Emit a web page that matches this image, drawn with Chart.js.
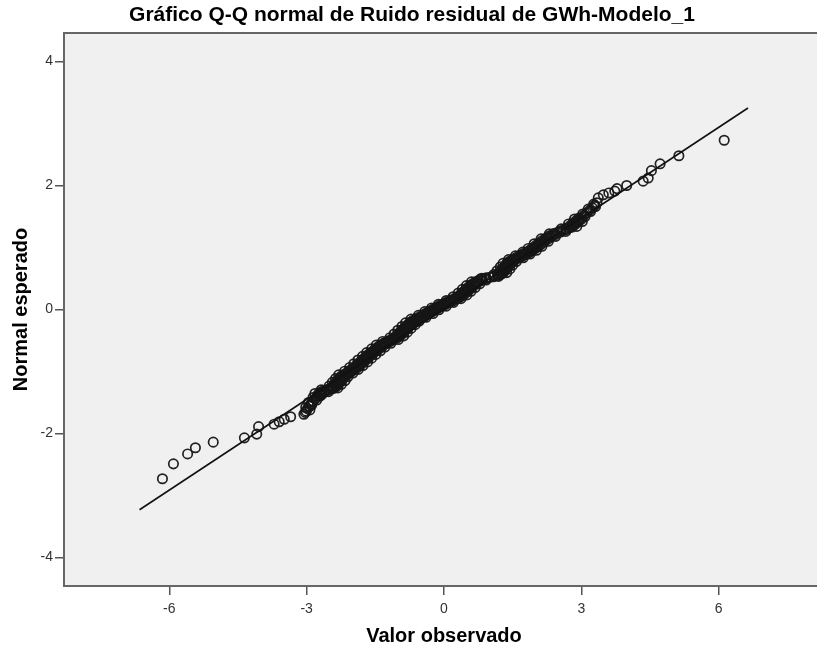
<!DOCTYPE html>
<html>
<head>
<meta charset="utf-8">
<script src="https://cdn.jsdelivr.net/npm/chart.js@4.4.1/dist/chart.umd.min.js"></script>
<style>
  html, body { margin: 0; padding: 0; background: #ffffff; overflow: hidden; }
  #wrap { width: 832px; height: 650px; }
</style>
</head>
<body>
<div id="wrap"><canvas id="qq" width="832" height="650"></canvas></div>
<script>
// Texts
const chartTitle = 'Gráfico Q-Q normal de Ruido residual de GWh-Modelo_1';
const xAxisTitle = 'Valor observado';
const yAxisTitle = 'Normal esperado';

// Tick values
const xTicks = [-6, -3, 0, 3, 6];
const yTicks = [-4, -2, 0, 2, 4];

// Residuals (observed) and their expected normal quantiles
const observed = [
  -6.15, -5.91, -5.60, -5.43, -5.04, -4.36, -4.09, -4.05, -3.71, -3.60, -3.49, -3.35, -3.06, -3.03,
  -3.01, -2.93, -2.98, -3.02, -2.94, -2.89, -2.90, -2.96, -2.86, -2.78, -2.81, -2.86, -2.75, -2.70,
  -2.71, -2.82, -2.67, -2.52, -2.60, -2.68, -2.46, -2.32, -2.40, -2.51, -2.37, -2.24, -2.33, -2.44,
  -2.30, -2.16, -2.27, -2.37, -2.23, -2.10, -2.20, -2.30, -2.13, -1.99, -2.07, -2.17, -2.02, -1.87,
  -1.96, -2.06, -1.90, -1.77, -1.86, -1.97, -1.81, -1.67, -1.77, -1.88, -1.72, -1.58, -1.68, -1.78,
  -1.63, -1.49, -1.59, -1.69, -1.53, -1.39, -1.48, -1.58, -1.43, -1.29, -1.38, -1.48, -1.33, -1.16,
  -1.25, -1.34, -1.17, -1.00, -1.08, -1.18, -1.02, -0.88, -0.98, -1.09, -0.94, -0.80, -0.90, -1.01,
  -0.86, -0.72, -0.82, -0.92, -0.77, -0.63, -0.73, -0.84, -0.69, -0.54, -0.63, -0.72, -0.55, -0.39,
  -0.47, -0.56, -0.40, -0.24, -0.33, -0.42, -0.26, -0.11, -0.19, -0.27, -0.11,  0.05, -0.04, -0.12,
   0.05,  0.21,  0.13,  0.05,  0.21,  0.37,  0.30,  0.20,  0.36,  0.50,  0.41,  0.31,  0.45,  0.59,
   0.50,  0.40,  0.54,  0.68,  0.59,  0.49,  0.63,  0.78,  0.69,  0.60,  0.75,  0.92,  0.84,  0.82,
   1.00,  1.19,  1.17,  1.09,  1.24,  1.37,  1.27,  1.16,  1.30,  1.44,  1.34,  1.23,  1.37,  1.50,
   1.40,  1.29,  1.43,  1.58,  1.49,  1.41,  1.57,  1.73,  1.65,  1.56,  1.72,  1.88,  1.80,  1.72,
   1.88,  2.02,  1.93,  1.84,  1.99,  2.14,  2.06,  1.97,  2.13,  2.28,  2.20,  2.12,  2.28,  2.44,
   2.36,  2.30,  2.48,  2.66,  2.61,  2.56,  2.75,  2.90,  2.81,  2.72,  2.87,  3.02,  2.94,  2.85,
   3.00,  3.08,  3.06,  3.03,  3.12,  3.20,  3.18,  3.15,  3.24,  3.31,  3.29,  3.27,  3.34,
   3.37,  3.48,  3.60,  3.73,  3.78,  3.99,  4.35,  4.46,  4.53,  4.72,  5.13,  6.12,
  -2.70, -2.76, -2.66, -2.72, -2.61, -2.66, -2.53, -2.54, -2.41, -2.45, -2.35, -2.42, -2.32, -2.38,
  -2.28, -2.35, -2.25, -2.32, -2.22, -2.28, -2.18, -2.25, -2.14, -2.19, -2.08, -2.12, -2.02, -2.07,
  -1.96, -2.01, -1.90, -1.95, -1.85, -1.91, -1.81, -1.86, -1.76, -1.82, -1.72, -1.77, -1.67, -1.73,
  -1.63, -1.68, -1.58, -1.64, -1.54, -1.58, -1.48, -1.53, -1.43, -1.48, -1.38, -1.43, -1.33, -1.38,
  -1.27, -1.31, -1.19, -1.23, -1.11, -1.14, -1.03, -1.07, -0.97, -1.03, -0.93, -0.99, -0.89, -0.95,
  -0.85, -0.91, -0.81, -0.87, -0.77, -0.82, -0.72, -0.78, -0.68, -0.74, -0.63, -0.68, -0.57, -0.61,
  -0.49, -0.53, -0.41, -0.46, -0.34, -0.39, -0.27, -0.32, -0.20, -0.25, -0.13, -0.17, -0.05, -0.10,
   0.02, -0.01,  0.11,  0.07,  0.19,  0.15,  0.27,  0.24,  0.35,  0.31,  0.41,  0.36,  0.46,  0.40,
   0.50,  0.45,  0.55,  0.49,  0.59,  0.54,  0.64,  0.58,  0.68,  0.64,  0.74,  0.70,  0.81,  0.78,
   0.92,  0.92,  1.08,  1.09,  1.23,  1.18,  1.29,  1.22,  1.32,  1.25,  1.35,  1.29,  1.39,  1.32,
   1.42,  1.35,  1.45,  1.38,  1.49,  1.44,  1.55,  1.51,  1.63,  1.59,  1.71,  1.66,  1.78,  1.74,
   1.86,  1.82,  1.93,  1.88,  1.98,  1.94,  2.05,  2.00,  2.12,  2.07,  2.19,  2.14,  2.26,  2.22,
   2.34,  2.30,  2.43,  2.41,  2.55,  2.54,  2.68,  2.67,  2.80,  2.75,  2.86,  2.81,  2.93,  2.88,
   2.99,  2.94
];
const expected = [
  -2.73, -2.49, -2.33, -2.23, -2.14, -2.07, -2.01, -1.89, -1.85, -1.81, -1.77, -1.73, -1.69, -1.66,
  -1.64, -1.62, -1.60, -1.58, -1.56, -1.54, -1.52, -1.50, -1.48, -1.46, -1.44, -1.42, -1.40, -1.385,
  -1.37, -1.355, -1.34, -1.325, -1.31, -1.295, -1.28, -1.265, -1.25, -1.235, -1.22, -1.205, -1.19, -1.175,
  -1.16, -1.145, -1.13, -1.115, -1.10, -1.085, -1.07, -1.055, -1.04, -1.025, -1.01, -0.995, -0.98, -0.965,
  -0.95, -0.935, -0.92, -0.905, -0.89, -0.875, -0.86, -0.845, -0.83, -0.815, -0.80, -0.785, -0.77, -0.755,
  -0.74, -0.725, -0.71, -0.695, -0.68, -0.665, -0.65, -0.635, -0.62, -0.605, -0.59, -0.575, -0.56, -0.545,
  -0.53, -0.515, -0.50, -0.485, -0.47, -0.455, -0.44, -0.425, -0.41, -0.395, -0.38, -0.365, -0.35, -0.335,
  -0.32, -0.305, -0.29, -0.275, -0.26, -0.245, -0.23, -0.215, -0.20, -0.185, -0.17, -0.155, -0.14, -0.125,
  -0.11, -0.095, -0.08, -0.065, -0.05, -0.035, -0.02, -0.005,  0.01,  0.025,  0.04,  0.055,  0.07,  0.085,
   0.10,  0.115,  0.13,  0.145,  0.16,  0.175,  0.19,  0.205,  0.22,  0.235,  0.25,  0.265,  0.28,  0.295,
   0.31,  0.325,  0.34,  0.355,  0.37,  0.385,  0.40,  0.415,  0.43,  0.445,  0.46,  0.475,  0.49,  0.505,
   0.52,  0.535,  0.55,  0.565,  0.58,  0.595,  0.61,  0.625,  0.64,  0.655,  0.67,  0.685,  0.70,  0.715,
   0.73,  0.745,  0.76,  0.775,  0.79,  0.805,  0.82,  0.835,  0.85,  0.865,  0.88,  0.895,  0.91,  0.925,
   0.94,  0.955,  0.97,  0.985,  1.00,  1.02,  1.04,  1.06,  1.08,  1.10,  1.12,  1.14,  1.16,  1.18,
   1.20,  1.22,  1.24,  1.26,  1.28,  1.30,  1.32,  1.34,  1.36,  1.38,  1.40,  1.42,  1.44,  1.46,
   1.48,  1.50,  1.52,  1.54,  1.56,  1.58,  1.60,  1.62,  1.64,  1.66,  1.68,  1.70,  1.72,
   1.80,  1.85,  1.88,  1.91,  1.95,  2.00,  2.07,  2.12,  2.24,  2.35,  2.48,  2.73,
  -1.3925, -1.3775, -1.3625, -1.3475, -1.3325, -1.3175, -1.3025, -1.2875, -1.2725, -1.2575, -1.2425, -1.2275, -1.2125, -1.1975,
  -1.1825, -1.1675, -1.1525, -1.1375, -1.1225, -1.1075, -1.0925, -1.0775, -1.0625, -1.0475, -1.0325, -1.0175, -1.0025, -0.9875,
  -0.9725, -0.9575, -0.9425, -0.9275, -0.9125, -0.8975, -0.8825, -0.8675, -0.8525, -0.8375, -0.8225, -0.8075, -0.7925, -0.7775,
  -0.7625, -0.7475, -0.7325, -0.7175, -0.7025, -0.6875, -0.6725, -0.6575, -0.6425, -0.6275, -0.6125, -0.5975, -0.5825, -0.5675,
  -0.5525, -0.5375, -0.5225, -0.5075, -0.4925, -0.4775, -0.4625, -0.4475, -0.4325, -0.4175, -0.4025, -0.3875, -0.3725, -0.3575,
  -0.3425, -0.3275, -0.3125, -0.2975, -0.2825, -0.2675, -0.2525, -0.2375, -0.2225, -0.2075, -0.1925, -0.1775, -0.1625, -0.1475,
  -0.1325, -0.1175, -0.1025, -0.0875, -0.0725, -0.0575, -0.0425, -0.0275, -0.0125,  0.0025,  0.0175,  0.0325,  0.0475,  0.0625,
   0.0775,  0.0925,  0.1075,  0.1225,  0.1375,  0.1525,  0.1675,  0.1825,  0.1975,  0.2125,  0.2275,  0.2425,  0.2575,  0.2725,
   0.2875,  0.3025,  0.3175,  0.3325,  0.3475,  0.3625,  0.3775,  0.3925,  0.4075,  0.4225,  0.4375,  0.4525,  0.4675,  0.4825,
   0.4975,  0.5125,  0.5275,  0.5425,  0.5575,  0.5725,  0.5875,  0.6025,  0.6175,  0.6325,  0.6475,  0.6625,  0.6775,  0.6925,
   0.7075,  0.7225,  0.7375,  0.7525,  0.7675,  0.7825,  0.7975,  0.8125,  0.8275,  0.8425,  0.8575,  0.8725,  0.8875,  0.9025,
   0.9175,  0.9325,  0.9475,  0.9625,  0.9775,  0.9925,  1.01,  1.03,  1.05,  1.07,  1.09,  1.11,  1.13,  1.15,
   1.17,  1.19,  1.21,  1.23,  1.25,  1.27,  1.29,  1.31,  1.33,  1.35,  1.37,  1.39,  1.41,  1.43,
   1.45,  1.47
];

// Reference line end points
const refLineX = [-6.65, 6.64];
const refLineY = [-3.23, 3.25];

const pointData = observed.map((v, i) => ({ x: v, y: expected[i] }));
const lineData = refLineX.map((v, i) => ({ x: v, y: refLineY[i] }));

// Grey plot panel with a dark frame
const panelPlugin = {
  id: 'panel',
  beforeDraw(chart) {
    const { ctx, chartArea: a } = chart;
    ctx.save();
    ctx.fillStyle = '#f0f0f0';
    ctx.fillRect(a.left, a.top, a.right - a.left, a.bottom - a.top);
    ctx.restore();
  },
  afterDraw(chart) {
    const { ctx, chartArea: a } = chart;
    ctx.save();
    ctx.strokeStyle = '#666666';
    ctx.lineWidth = 2;
    ctx.strokeRect(a.left, a.top, a.right - a.left, a.bottom - a.top);
    ctx.restore();
  }
};

const tickFont = { family: '"Liberation Sans", Arial, sans-serif', size: 14 };
const titleFont = { family: '"Liberation Sans", Arial, sans-serif', size: 20, weight: 'bold' };

new Chart(document.getElementById('qq'), {
  type: 'scatter',
  data: {
    datasets: [
      {
        type: 'line',
        data: lineData,
        borderColor: '#111111',
        borderWidth: 1.6,
        pointRadius: 0,
        fill: false,
        order: 0
      },
      {
        data: pointData,
        pointStyle: 'circle',
        pointRadius: 4.7,
        pointBorderWidth: 1.7,
        pointBackgroundColor: 'rgba(0,0,0,0)',
        pointBorderColor: 'rgba(22,22,22,0.95)',
        order: 1
      }
    ]
  },
  options: {
    responsive: false,
    animation: false,
    layout: { padding: { left: 0, right: 8, top: 0, bottom: 0 } },
    plugins: {
      legend: { display: false },
      tooltip: { enabled: false },
      title: {
        display: true,
        text: chartTitle,
        color: '#000000',
        font: { family: '"Liberation Sans", Arial, sans-serif', size: 21, weight: 'bold' },
        padding: { top: 3, bottom: 4.8 }
      }
    },
    scales: {
      x: {
        type: 'linear',
        min: -8.3,
        max: 8.3,
        afterBuildTicks: (s) => { s.ticks = xTicks.map(v => ({ value: v })); },
        afterFit: (s) => { s.height = 64; },
        border: { display: false },
        grid: { drawOnChartArea: false, drawTicks: true, tickLength: 9, color: '#555555', lineWidth: 1.5 },
        ticks: { font: tickFont, color: '#333333', padding: 6, maxRotation: 0 },
        title: { display: true, text: xAxisTitle, color: '#000000', font: titleFont, padding: { top: 0, bottom: 1.5 } }
      },
      y: {
        type: 'linear',
        min: -4.46,
        max: 4.46,
        afterBuildTicks: (s) => { s.ticks = yTicks.map(v => ({ value: v })); },
        afterFit: (s) => { s.width = 64; },
        border: { display: false },
        grid: { drawOnChartArea: false, drawTicks: true, tickLength: 9, color: '#555555', lineWidth: 1.5 },
        ticks: { font: tickFont, color: '#333333', padding: 2 },
        title: { display: true, text: yAxisTitle, color: '#000000', font: titleFont, padding: { top: 9, bottom: 0 } }
      }
    }
  },
  plugins: [panelPlugin]
});
</script>
</body>
</html>
